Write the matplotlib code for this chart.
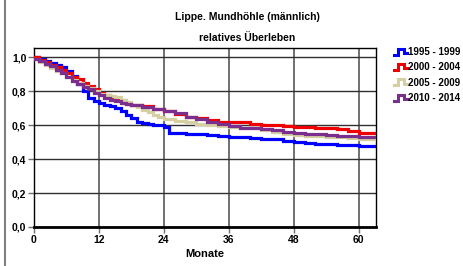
import matplotlib
matplotlib.use("Agg")
import matplotlib.pyplot as plt
from matplotlib.lines import Line2D
from matplotlib.legend_handler import HandlerBase

plt.rcParams['font.family'] = ['Liberation Sans', 'DejaVu Sans']

# --- Data ---
labels = ["1995 - 1999", "2000 - 2004", "2005 - 2009", "2010 - 2014"]
colors = ["#0000FF", "#F00000", "#D6CFA2", "#7A2E8E"]

m_9599 = [0, 1, 2, 3, 4, 5, 6, 7, 8, 9, 10, 11, 12, 13, 14, 15, 16, 17, 18, 19, 20, 21, 22, 24,
          25, 28, 30, 32, 34, 36, 38, 40, 42, 44, 46, 48, 50, 52, 54, 56, 58, 60]
s_9599 = [1.0, 0.99, 0.975, 0.965, 0.955, 0.94, 0.92, 0.89, 0.84, 0.80, 0.76, 0.74, 0.73, 0.72,
          0.71, 0.70, 0.68, 0.66, 0.64, 0.62, 0.61, 0.605, 0.60, 0.59, 0.555, 0.55, 0.545, 0.54,
          0.535, 0.53, 0.53, 0.525, 0.52, 0.515, 0.505, 0.50, 0.495, 0.49, 0.49, 0.485, 0.48, 0.475]

m_0004 = [0, 1, 2, 3, 4, 5, 6, 7, 8, 9, 10, 11, 12, 13, 14, 15, 16, 17, 18, 20, 22, 24, 26, 28,
          30, 32, 34, 36, 38, 40, 42, 44, 46, 48, 50, 52, 54, 56, 58, 60]
s_0004 = [1.0, 0.98, 0.97, 0.955, 0.94, 0.925, 0.905, 0.885, 0.87, 0.85, 0.83, 0.81, 0.79, 0.775,
          0.76, 0.745, 0.735, 0.725, 0.718, 0.71, 0.695, 0.685, 0.665, 0.65, 0.64, 0.63, 0.62,
          0.62, 0.615, 0.605, 0.60, 0.60, 0.595, 0.59, 0.59, 0.585, 0.58, 0.575, 0.565, 0.555]

m_0509 = [0, 1, 2, 3, 4, 5, 6, 7, 8, 9, 10, 11, 12, 13, 14, 15, 16, 17, 18, 19, 20, 21, 22, 23,
          24, 26, 28, 30, 32, 34, 36, 38, 40, 42, 44, 46, 48, 50, 52, 54, 56, 58, 60]
s_0509 = [0.99, 0.97, 0.955, 0.935, 0.92, 0.905, 0.885, 0.865, 0.85, 0.83, 0.815, 0.80, 0.785,
          0.775, 0.77, 0.765, 0.75, 0.735, 0.72, 0.705, 0.69, 0.675, 0.66, 0.645, 0.635, 0.625,
          0.615, 0.605, 0.60, 0.595, 0.59, 0.585, 0.58, 0.57, 0.56, 0.55, 0.54, 0.535, 0.535,
          0.53, 0.53, 0.525, 0.52]

m_1014 = [0, 1, 2, 3, 4, 5, 6, 7, 8, 9, 10, 11, 12, 13, 14, 15, 16, 17, 18, 20, 22, 24, 26, 28,
          30, 32, 34, 36, 38, 40, 42, 44, 46, 48, 50, 52, 54, 56, 58, 60]
s_1014 = [0.99, 0.975, 0.96, 0.945, 0.925, 0.905, 0.885, 0.86, 0.84, 0.825, 0.81, 0.79, 0.775,
          0.76, 0.75, 0.74, 0.73, 0.725, 0.715, 0.705, 0.695, 0.685, 0.67, 0.65, 0.635, 0.62,
          0.605, 0.595, 0.585, 0.58, 0.575, 0.57, 0.56, 0.555, 0.55, 0.545, 0.54, 0.535, 0.535, 0.53]

months = [m_9599, m_0004, m_0509, m_1014]
survival = [s_9599, s_0004, s_0509, s_1014]

x_ticks = [0, 12, 24, 36, 48, 60]
y_ticks = [0.0, 0.2, 0.4, 0.6, 0.8, 1.0]
x_max = 63.2


class StepHandler(HandlerBase):
    # small step-shaped legend key like the original
    def create_artists(self, legend, orig_handle, xdescent, ydescent,
                       width, height, fontsize, trans):
        w, h = width, height
        xs = [0, 0.3 * w, 0.3 * w, 0.8 * w, 0.8 * w, w]
        ys = [0.05 * h, 0.05 * h, 0.95 * h, 0.95 * h, 0.3 * h, 0.3 * h]
        xs = [x - xdescent for x in xs]
        ys = [y - ydescent for y in ys]
        ln = Line2D(xs, ys, color=orig_handle.get_color(), lw=2.2,
                    solid_joinstyle='miter', transform=trans)
        return [ln]


fig = plt.figure(figsize=(4.64, 2.66), dpi=100)
fig.patch.set_facecolor('white')
ax = fig.add_axes([34 / 464, 39 / 266, 342 / 464, 179 / 266])

handles = []
for m, s, c, lab in zip(months, survival, colors, labels):
    xs = m + [x_max + 1]
    ys = s + [s[-1]]
    ln, = ax.plot(xs, ys, drawstyle='steps-post', color=c, lw=2.3, label=lab,
                  solid_joinstyle='miter', zorder=3)
    handles.append(ln)

ax.set_xlim(0, x_max)
ax.set_ylim(0, 1.053)
ax.set_xticks(x_ticks)
ax.set_yticks(y_ticks)
ax.set_xticklabels([str(t) for t in x_ticks], fontsize=7.5, fontweight='bold')
ax.set_yticklabels([f"{t:.1f}".replace('.', ',') for t in y_ticks], fontsize=7.5, fontweight='bold')

ax.grid(True, axis='x', color='#707070', lw=1.4)
ax.grid(True, axis='y', color='#303030', lw=1.0)
ax.set_axisbelow(True)
ax.tick_params(axis='both', direction='out', length=4, width=1, color='#707070', pad=1.5)

for sp in ax.spines.values():
    sp.set_color('black')
    sp.set_linewidth(1.0)
ax.spines['bottom'].set_linewidth(2.0)

ax.set_xlabel('Monate', fontsize=8, fontweight='bold', labelpad=3)

fig.text(247 / 464, 1 - 17 / 266, 'Lippe. Mundhöhle (männlich)', ha='center', va='center',
         fontsize=7.5, fontweight='bold')
fig.text(247 / 464, 1 - 38 / 266, 'relatives Überleben', ha='center', va='center',
         fontsize=7.5, fontweight='bold')

fig.legend(handles=handles, labels=labels, loc='upper left',
           bbox_to_anchor=(394 / 464, 1 - 47 / 266), frameon=False,
           handler_map={Line2D: StepHandler()},
           prop={'size': 7, 'weight': 'bold'}, handlelength=1.3, handleheight=0.7,
           handletextpad=0.1, labelspacing=0.55, borderaxespad=0, borderpad=0)

# thin gray frame line at the left edge of the picture
fig.add_artist(Line2D([5 / 464, 5 / 464], [0, 1], transform=fig.transFigure,
                      color='#808080', lw=1.5))

fig.savefig('out.png', dpi=100, facecolor='white')
